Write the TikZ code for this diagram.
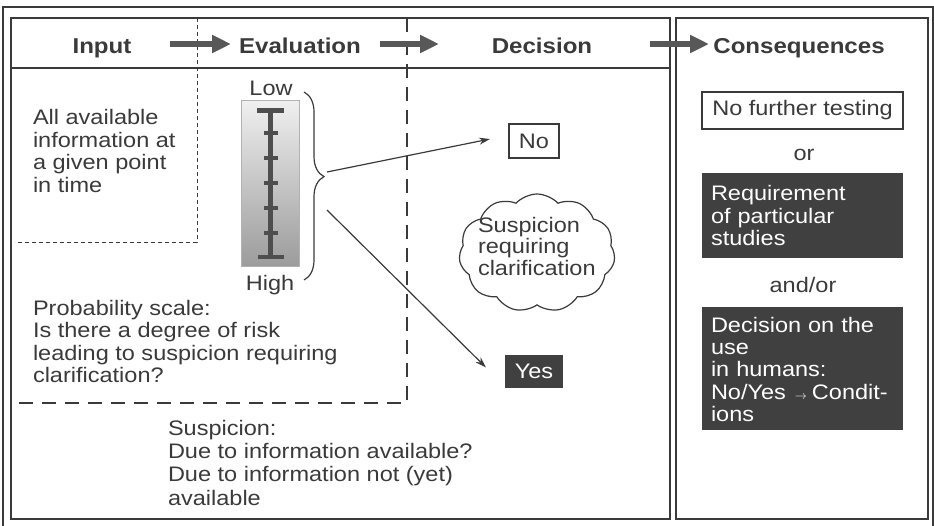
\documentclass[tikz,border=0pt]{standalone}
\usepackage{fontspec}
\setmainfont{Liberation Sans}[FakeStretch=1.12]
\usetikzlibrary{arrows.meta,decorations.pathreplacing,shapes.symbols,calc}
\definecolor{ink}{HTML}{3A3A3A}
\definecolor{boxfill}{HTML}{404040}
\begin{document}
\begin{tikzpicture}[x=1pt,y=-1pt,
  every node/.style={inner sep=0pt, outer sep=0pt, text=ink},
  body/.style={font=\fontsize{21}{22.5}\selectfont, align=left, anchor=north west},
  plain/.style={font=\fontsize{21}{22.5}\selectfont, anchor=base},
  head/.style={font=\bfseries\fontsize{21.5}{24}\selectfont, anchor=base},
  frame/.style={draw=ink, line width=1.4pt},
  fine dash/.style={draw=ink, line width=1pt, dash pattern=on 4pt off 3pt},
  long dash/.style={draw=ink, line width=1.1pt, dash pattern=on 14pt off 9pt},
  flow/.style={draw=ink!85, line width=6.5pt, -{Triangle[length=19pt,width=17pt]}},
  pointer/.style={draw=ink, line width=1.2pt, -{Stealth[length=11pt,width=7pt]}},
  lightbox/.style={draw=ink, line width=1.2pt, fill=white, font=\fontsize{21}{22.5}\selectfont},
  darkbox/.style={fill=boxfill, text=white, font=\fontsize{21}{22.3}\selectfont,
    align=left, text width=183pt, inner xsep=9pt},
  scalebar/.style={draw=ink!90, line width=5pt},
  scaletick/.style={draw=ink!90, line width=4pt},
]
\useasboundingbox (0,0) rectangle (934,525);

% frames
\draw[frame] (3,530) -- (3,7) -- (933,7) -- (933,530);
\draw[frame] (11,18) rectangle (670,519);
\draw[frame] (676,18) rectangle (928,519);
\draw[frame] (11,68) -- (670,68);

% dashed regions
\draw[fine dash] (197,18) -- (197,242) -- (15,242);
\draw[long dash] (407,18) -- (407,403) -- (15,403);

% headers
\node[head] (input) at (102,53) {Input};
\node[head] (eval) at (300,53) {Evaluation};
\node[head] (dec) at (542,53) {Decision};
\node[head] (cons) at (799,53) {Consequences};
\coordinate (f1s) at (170,44); \coordinate (f1e) at (231,44);
\coordinate (f2s) at (380,44); \coordinate (f2e) at (439,44);
\coordinate (f3s) at (650,44); \coordinate (f3e) at (709,44);
\draw[flow] (f1s) -- (f1e);
\draw[flow] (f2s) -- (f2e);
\draw[flow] (f3s) -- (f3e);

% input text
\node[body] (allinfo) at (33,109.5) {All available\\information at\\a given point\\in time};

% probability scale
\shade[top color=gray!12, bottom color=gray!78, draw=gray!60, line width=0.6pt] (241,100) rectangle (299,266);
\draw[scalebar] (270,110) -- (270,257);
\draw[scalebar] (257,110) -- (284,110);
\draw[scaletick] (258,257) -- (284,257);
\foreach \yy in {133,158,183,208,233}
  \draw[scaletick] (264,\yy) -- (278,\yy);
\node[plain] (low) at (271,95) {Low};
\node[plain] (high) at (270,290) {High};
\coordinate (brtop) at (304,92);
\coordinate (brbot) at (304,280);
\draw[draw=ink, line width=1.2pt, decorate, decoration={brace, amplitude=20pt, aspect=0.45}] (brtop) -- (brbot);
\coordinate (tipup) at (327,172);
\coordinate (tipdn) at (327,210);

\node[body] (probscale) at (33,300) {Probability scale:\\Is there a degree of risk\\leading to suspicion requiring\\clarification?};
\node[body, font=\fontsize{21}{23.3}\selectfont] (suspq) at (168,420) {Suspicion:\\Due to information available?\\Due to information not (yet)\\available};

% decision
\node[lightbox, minimum width=50pt, minimum height=34pt] (no) at (534,141) {No};
\node[fill=boxfill, text=white, font=\fontsize{21}{22.5}\selectfont, minimum width=58pt, minimum height=33pt] (yes) at (534,371.5) {Yes};
\node[cloud, cloud ignores aspect, draw=ink, line width=1.2pt, cloud puffs=11, cloud puff arc=95,
  minimum width=156pt, minimum height=118pt] (cloud) at (537,253) {};
\node[body, font=\fontsize{21}{21.5}\selectfont] (susp) at (478,217) {Suspicion\\requiring\\clarification};
\draw[pointer] (tipup) -- ($(no.west)+(-19,-2)$);
\draw[pointer] (tipdn) -- ($(yes.west)+(-19,-4)$);

% consequences
\node[lightbox, minimum width=201pt, minimum height=37pt] (nft) at (802.5,110.5) {No further testing};
\node[plain] (or) at (804,160) {or};
\node[darkbox, minimum height=85pt] (req) at (802.5,215.5) {Requirement\\of particular\\studies};
\node[plain] (andor) at (803,292) {and/or};
\node[darkbox, minimum height=123pt, text height=17pt] (use) at (802.5,368.5) {Decision on the\\use\\in humans:\\\mbox{No/Yes\hspace{9pt}{\fontsize{13}{13}\selectfont$\rightarrow$}\hspace{5pt}Condit-}\\ions};
\end{tikzpicture}
\end{document}
